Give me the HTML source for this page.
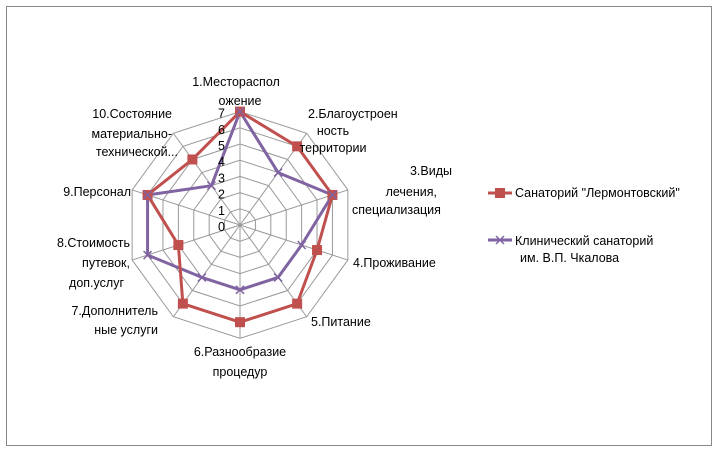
<!DOCTYPE html>
<html><head><meta charset="utf-8"><style>body{margin:0;background:#fff}svg{display:block}text{font-family:"Liberation Sans",sans-serif;font-size:12.5px;fill:#000}</style></head>
<body>
<svg width="718" height="451" xmlns="http://www.w3.org/2000/svg">
<rect x="6.5" y="6.5" width="705" height="439" fill="#fff" stroke="#888" stroke-width="1"/>
<g id="grid" stroke="#999" stroke-width="1" fill="none"></g>
<g id="data"></g>
<g>
<text x="236" y="86" text-anchor="middle">1.Местораспол</text>
<text x="240" y="105" text-anchor="middle">ожение</text>
<text x="308" y="118">2.Благоустроен</text>
<text x="333" y="135" text-anchor="middle">ность</text>
<text x="333" y="152" text-anchor="middle">территории</text>
<text x="452" y="175" text-anchor="end">3.Виды</text>
<text x="437" y="196" text-anchor="end">лечения,</text>
<text x="352" y="214">специализация</text>
<text x="353" y="267">4.Проживание</text>
<text x="311" y="326">5.Питание</text>
<text x="240" y="356" text-anchor="middle">6.Разнообразие</text>
<text x="240" y="376" text-anchor="middle">процедур</text>
<text x="158" y="315" text-anchor="end">7.Дополнитель</text>
<text x="158" y="334" text-anchor="end">ные услуги</text>
<text x="130" y="247" text-anchor="end">8.Стоимость</text>
<text x="130" y="267" text-anchor="end">путевок,</text>
<text x="124" y="287" text-anchor="end">доп.услуг</text>
<text x="131" y="196" text-anchor="end">9.Персонал</text>
<text x="172" y="118" text-anchor="end">10.Состояние</text>
<text x="172" y="138" text-anchor="end">материально-</text>
<text x="178" y="156" text-anchor="end">технической...</text>
</g>
<g id="ticks" text-anchor="end" style="font-size:13px"></g>
<line x1="488" y1="193" x2="512" y2="193" stroke="#c0504d" stroke-width="3"/>
<rect x="495" y="188" width="10" height="10" fill="#c0504d"/>
<text x="515" y="197">Санаторий "Лермонтовский"</text>
<line x1="488" y1="240" x2="512" y2="240" stroke="#8064a2" stroke-width="3"/>
<path d="M496 236L504 244M504 236L496 244" stroke="#8064a2" stroke-width="1.5"/>
<text x="515" y="245">Клинический санаторий</text>
<text x="520" y="262">им. В.П. Чкалова</text>
<script>
var cx=240,cy=225,u=16.2,ns="http://www.w3.org/2000/svg";
function P(i,v){var a=i*Math.PI/5;return [cx+v*u*Math.sin(a),cy-v*u*Math.cos(a)];}
var g=document.getElementById('grid'),d=document.getElementById('data'),t=document.getElementById('ticks');
function el(n,at,p){var e=document.createElementNS(ns,n);for(var k in at)e.setAttribute(k,at[k]);p.appendChild(e);return e;}
for(var k=1;k<=7;k++){var pts=[];for(var i=0;i<10;i++)pts.push(P(i,k).join(','));el('polygon',{points:pts.join(' ')},g);}
for(var i=0;i<10;i++){var p=P(i,7);el('line',{x1:cx,y1:cy,x2:p[0],y2:p[1]},g);}
for(var k=0;k<=7;k++){var e=el('text',{x:225,y:cy-k*u+6},t);e.textContent=k;}
var red=[7,6,6,5,6,6,6,4,6,5],pur=[7,4,6,4,4,4,4,6,6,3];
function ser(v,c){var pts=v.map(function(x,i){return P(i,x).join(',')});el('polygon',{points:pts.join(' '),fill:'none',stroke:c,'stroke-width':3,'stroke-linejoin':'round'},d);return v.map(function(x,i){return P(i,x)});}
var pp=ser(pur,'#8064a2');
var rp=ser(red,'#c0504d');
rp.forEach(function(p){el('rect',{x:p[0]-5,y:p[1]-5,width:10,height:10,fill:'#c0504d'},d);});
pp.forEach(function(p){el('path',{d:'M'+(p[0]-4)+' '+(p[1]-4)+'L'+(p[0]+4)+' '+(p[1]+4)+'M'+(p[0]+4)+' '+(p[1]-4)+'L'+(p[0]-4)+' '+(p[1]+4),stroke:'#8064a2','stroke-width':1.5},d);});
</script>
</svg>
</body></html>
